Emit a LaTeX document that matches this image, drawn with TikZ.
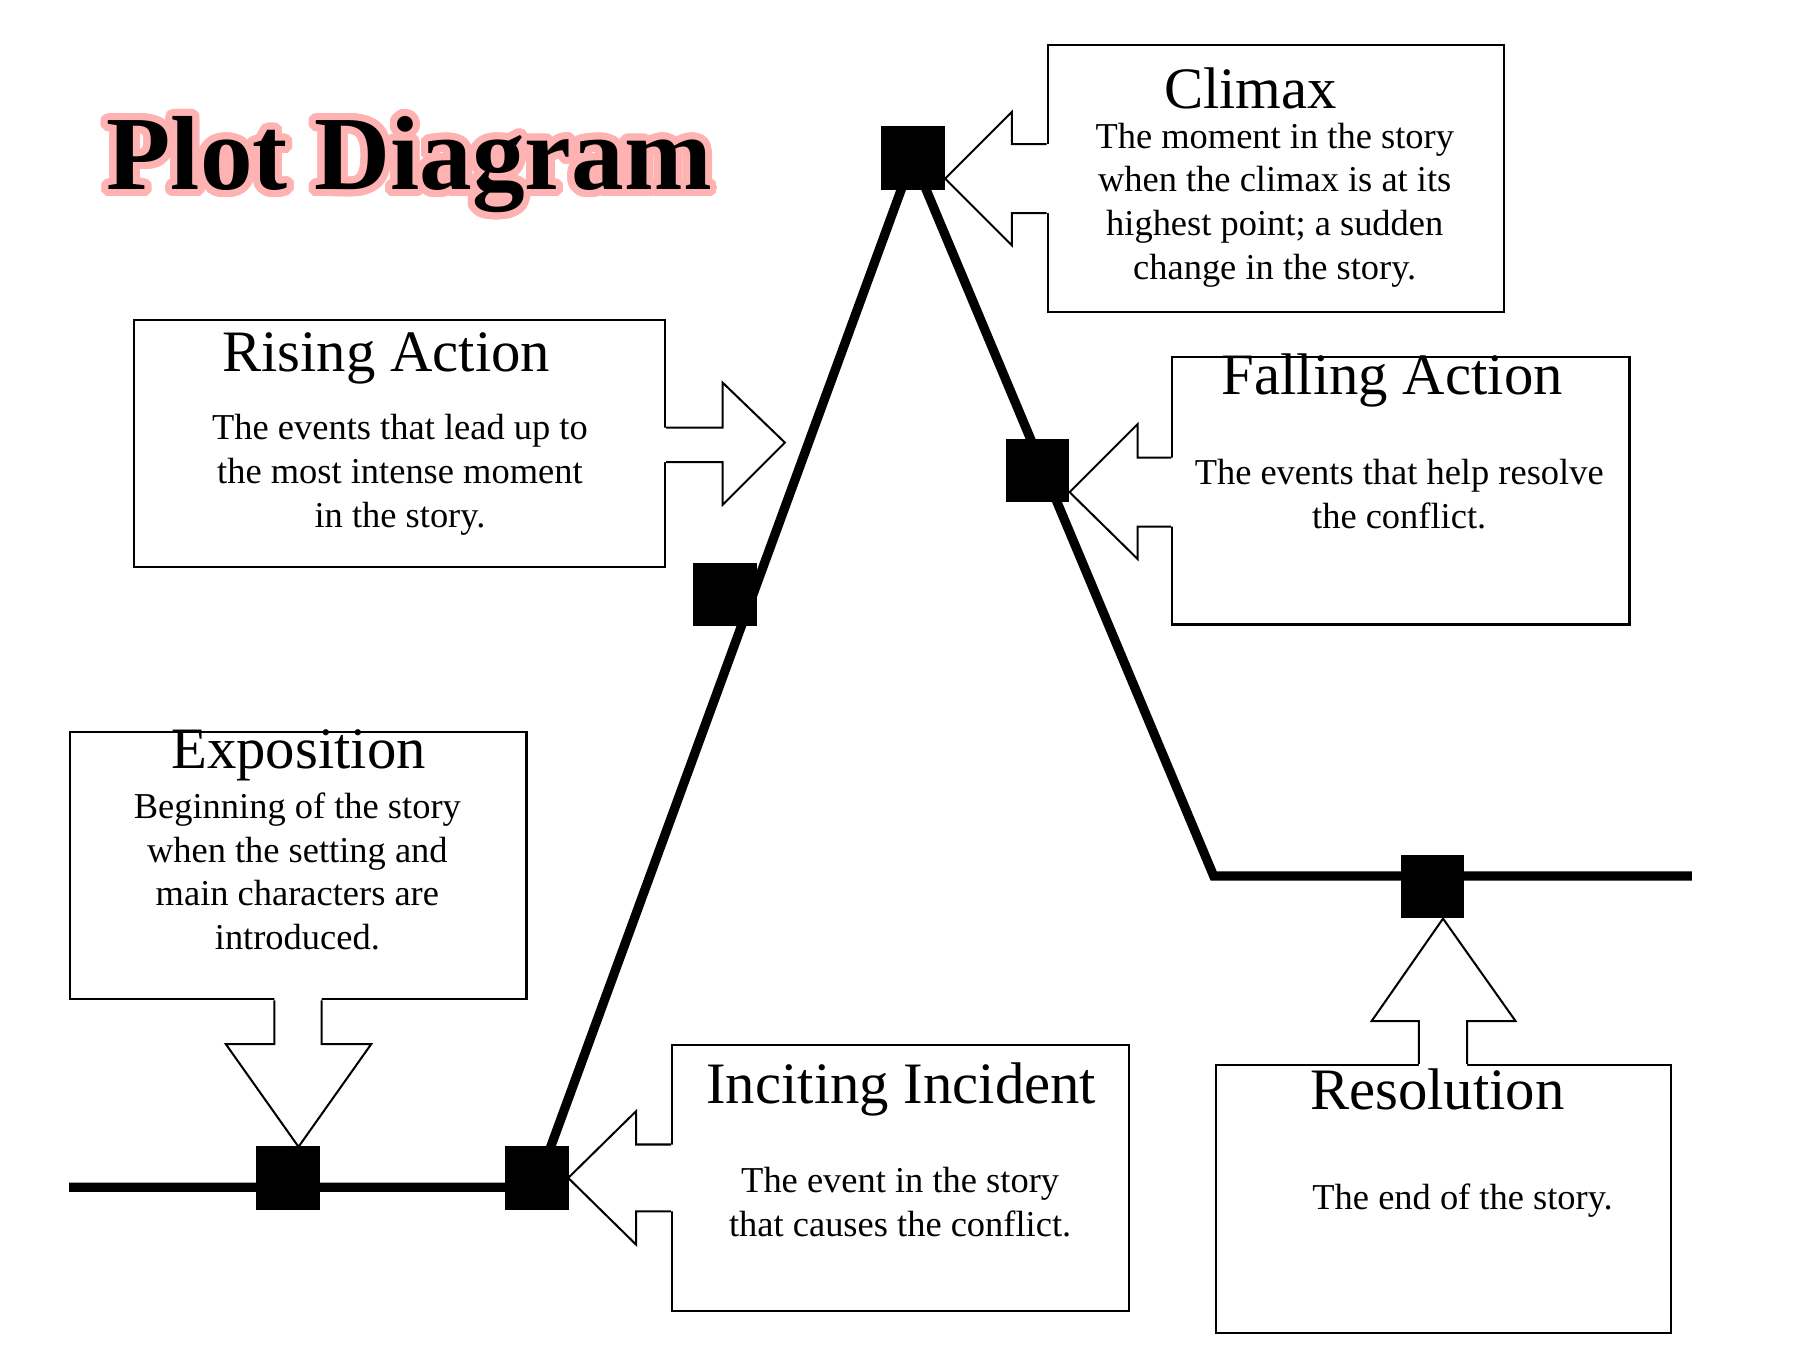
\documentclass[tikz,border=0pt]{standalone}
\usepackage{fontspec}
\setmainfont{Liberation Serif}
\usepackage{tikz}
\usepackage{contour}
\contourlength{3.5pt}
\contournumber{32}

\tikzset{
	box/.style={draw, line width=1pt, fill=white, anchor=north west, inner sep=0pt},
	plotmark/.style={fill=black, minimum size=1.1cm, inner sep=0pt},
	head/.style={font=\fontsize{29}{34}\selectfont},
	body/.style={font=\fontsize{18}{21.6}\selectfont, align=center},
	callout/.style={line width=1pt}
}

\begin{document}
\begin{tikzpicture}[x=0.02cm,y=-0.02cm]
	\useasboundingbox (0,0) rectangle (1560,1183);

	% title with a soft red glow
	\node (title) [font=\fontsize{52}{60}\selectfont\bfseries] at (355,146) {\contour{red!30}{Plot Diagram}};

	% boxes
	\node (climaxbox)  [box, minimum width=7.92cm, minimum height=4.64cm] at (908,38) {};
	\node (risingbox)  [box, minimum width=9.22cm, minimum height=4.28cm] at (115,277) {};
	\node (fallingbox) [box, minimum width=7.94cm, minimum height=4.64cm] at (1016,309) {};
	\node (expobox)    [box, minimum width=7.92cm, minimum height=4.64cm] at (60,634) {};
	\node (incitebox)  [box, minimum width=7.94cm, minimum height=4.62cm] at (582,906) {};
	\node (resobox)    [box, minimum width=7.90cm, minimum height=4.66cm] at (1054,923) {};

	% callout arrows
	\fill[white] (910,125) -- (878,125) -- (878,97) -- (820,155) -- (878,213) -- (878,185) -- (910,185) -- cycle;
	\draw[callout] (908,125) -- (878,125) -- (878,97) -- (820,155) -- (878,213) -- (878,185) -- (908,185);
	\fill[white] (576,371) -- (627,371) -- (627,332) -- (681,384) -- (627,438) -- (627,401) -- (576,401) -- cycle;
	\draw[callout] (578,371) -- (627,371) -- (627,332) -- (681,384) -- (627,438) -- (627,401) -- (578,401);
	\fill[white] (1018,397) -- (987,397) -- (987,368) -- (928,427) -- (987,485) -- (987,457) -- (1018,457) -- cycle;
	\draw[callout] (1016,397) -- (987,397) -- (987,368) -- (928,427) -- (987,485) -- (987,457) -- (1016,457);
	\fill[white] (238,866) -- (238,906) -- (196,906) -- (259,995) -- (322,906) -- (279,906) -- (279,866) -- cycle;
	\draw[callout] (238,868) -- (238,906) -- (196,906) -- (259,995) -- (322,906) -- (279,906) -- (279,868);
	\fill[white] (584,993) -- (552,993) -- (552,964) -- (493,1022) -- (552,1080) -- (552,1051) -- (584,1051) -- cycle;
	\draw[callout] (582,993) -- (552,993) -- (552,964) -- (493,1022) -- (552,1080) -- (552,1051) -- (582,1051);
	\fill[white] (1231,925) -- (1231,886) -- (1190,886) -- (1252,797) -- (1315,886) -- (1273,886) -- (1273,925) -- cycle;
	\draw[callout] (1231,923) -- (1231,886) -- (1190,886) -- (1252,797) -- (1315,886) -- (1273,886) -- (1273,923);

	% plot line
	\coordinate (start) at (60,1030);
	\coordinate (base) at (465,1030);
	\coordinate (peak) at (792,137);
	\coordinate (foot) at (1053,760);
	\coordinate (finish) at (1468,760);
	\draw[line width=0.16cm] (start) -- (base) -- (peak) -- (foot) -- (finish);

	% markers
	\node (expo)    [plotmark] at (250,1022) {};
	\node (incite)  [plotmark] at (466,1022) {};
	\node (rising)  [plotmark] at (629,516) {};
	\node (climax)  [plotmark] at (792,137) {};
	\node (falling) [plotmark] at (900,408) {};
	\node (reso)    [plotmark] at (1243,769) {};

	% texts
	\node[head] at (1085,77) {Climax};
	\node[body] at (1106,178) {The moment in the story\\when the climax is at its\\highest point; a sudden\\change in the story.};
	\node[head] at (335,311) {Rising Action};
	\node[body] at (347,412) {The events that lead up to\\the most intense moment\\in the story.};
	\node[head] at (1208,330) {Falling Action};
	\node[body] at (1214,429) {The events that help resolve\\the conflict.};
	\node[head] at (259,655) {Exposition};
	\node[body] at (258,756) {Beginning of the story\\when the setting and\\main characters are\\introduced.};
	\node[head] at (782,945) {Inciting Incident};
	\node[body] at (781,1043) {The event in the story\\that causes the conflict.};
	\node[head] at (1247,945) {Resolution};
	\node[body] at (1269,1042) {The end of the story.};
\end{tikzpicture}
\end{document}
